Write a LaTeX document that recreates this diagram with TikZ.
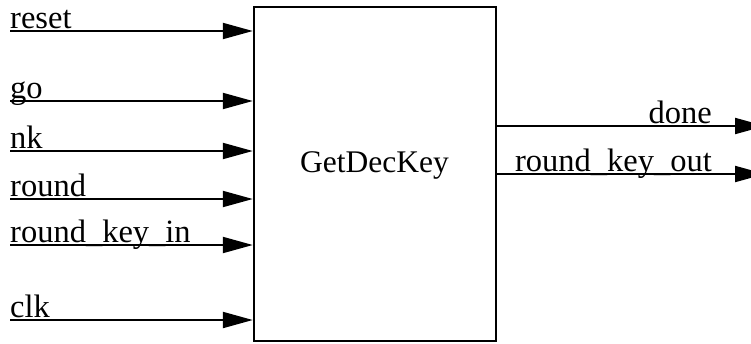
\documentclass[tikz,border=0pt]{standalone}
\usepackage{fontspec}
\setmainfont{Liberation Serif}
\usetikzlibrary{arrows.meta}
\begin{document}
\begin{tikzpicture}[x=1pt,y=-1pt,
  sig/.style={line width=2pt, -{Triangle[length=30pt,width=16pt]}},
  txt/.style={font=\fontsize{32.5}{38}\selectfont, inner sep=0pt},
  inlbl/.style={txt, anchor=base west},
  outlbl/.style={txt, anchor=base east}]
\useasboundingbox (0,0) rectangle (751,343);
\clip (0,0) rectangle (751,343);

% the module block
\node[draw, line width=2.4pt, minimum width=242pt, minimum height=334pt,
      inner sep=0pt] (blk) at (375,174) {};
\node[txt, font=\fontsize{31.5}{36}\selectfont, anchor=base] (title) at (374.5,172) {GetDecKey};

% input signals
\foreach \nm/\lb/\yy in {reset/reset/31, go/go/101, nk/nk/151,
    round/round/199, rki/round\_key\_in/245, clk/clk/320} {
  \coordinate (in-\nm) at (10,\yy);
  \draw[sig] (in-\nm) -- (blk.west |- in-\nm);
  \node[inlbl] (l-\nm) at (10,\yy-3) {\lb};
}

% output signals
\foreach \nm/\lb/\yy in {done/done/126, rko/round\_key\_out/174} {
  \coordinate (out-\nm) at (765,\yy);
  \draw[sig] (blk.east |- out-\nm) -- (out-\nm);
  \node[outlbl] (l-\nm) at (712,\yy-3) {\lb};
}
\end{tikzpicture}
\end{document}
